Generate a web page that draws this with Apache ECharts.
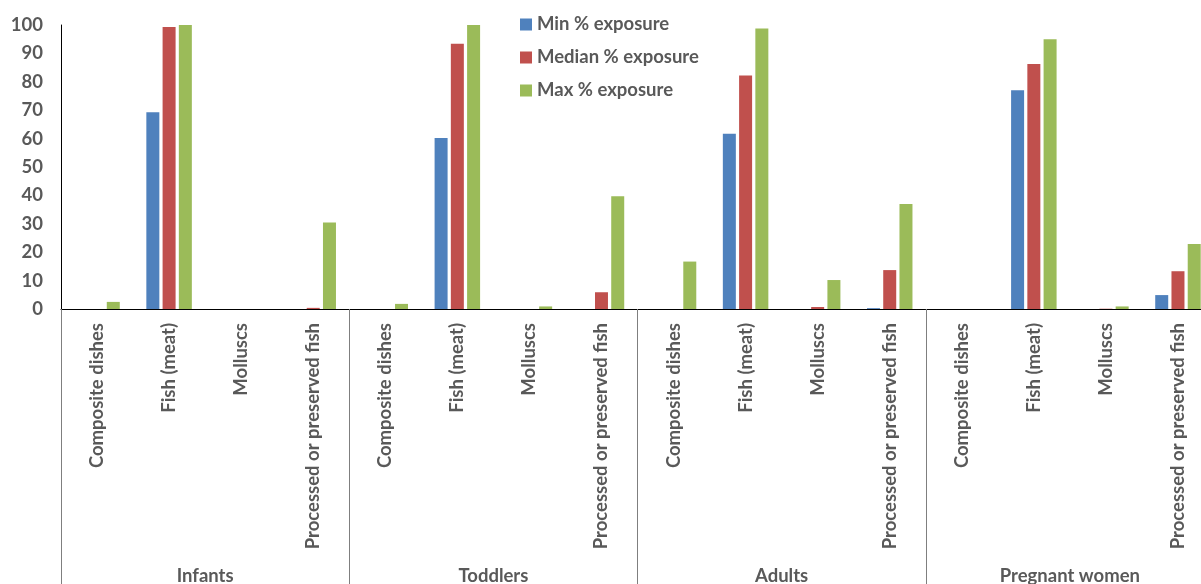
<!DOCTYPE html>
<html>
<head>
<meta charset="utf-8">
<script src="https://cdn.jsdelivr.net/npm/echarts@6/dist/echarts.min.js"></script>
<style>
  html, body { margin: 0; padding: 0; background: #fff; overflow: hidden; }
  /* the plot runs slightly past the right edge of the window */
  #chart { width: 1214px; height: 584px; }
</style>
</head>
<body>
<div id="chart"></div>
<script>
// Population groups and food categories
const groups = ['Infants', 'Toddlers', 'Adults', 'Pregnant women'];
const foods = ['Composite dishes', 'Fish (meat)', 'Molluscs', 'Processed or preserved fish'];
const categories = groups.flatMap(() => foods);

// % exposure per group, ordered as in `categories`
const minExposure = [
  0, 69.3, 0, 0,
  0, 60.2, 0, 0,
  0, 61.7, 0, 0.3,
  0, 77.0, 0, 4.9
];
const medianExposure = [
  0, 99.3, 0, 0.4,
  0, 93.4, 0, 5.9,
  0, 82.2, 0.7, 13.7,
  0, 86.3, 0.1, 13.3
];
const maxExposure = [
  2.5, 100, 0, 30.5,
  1.8, 100, 0.9, 39.7,
  16.7, 98.8, 10.2, 37.0,
  0, 95.0, 0.9, 22.9
];
const yTicks = { min: 0, max: 100, interval: 10 };

const txt = '#595959';
const font = 'Lato, "Open Sans", sans-serif';
const fs = 18.5;

const chart = echarts.init(document.getElementById('chart'));
chart.setOption({
  animation: false,
  backgroundColor: '#fff',
  legend: {
    orient: 'vertical',
    left: 515,
    top: 10,
    itemWidth: 12,
    itemHeight: 12,
    itemGap: 14,
    icon: 'rect',
    textStyle: { color: txt, fontWeight: 'bold', fontSize: fs, fontFamily: font }
  },
  grid: {
    left: 61, top: 25, right: 0, height: 284,
    containLabel: false,
    outerBoundsMode: 'none'
  },
  xAxis: [
    {
      type: 'category',
      data: categories,
      axisLine: { show: true, lineStyle: { color: '#000', width: 1 } },
      axisTick: {
        show: true,
        interval: (i) => i % 4 === 0,
        length: 280,
        lineStyle: { color: '#7f7f7f', width: 1 }
      },
      axisLabel: {
        interval: 0,
        rotate: 90,
        margin: 14,
        color: txt,
        fontWeight: 'bold',
        fontSize: fs,
        fontFamily: font
      }
    },
    {
      type: 'category',
      data: groups,
      position: 'bottom',
      axisLine: { show: false },
      axisTick: { show: false },
      axisLabel: {
        interval: 0,
        margin: 258,
        color: txt,
        fontWeight: 'bold',
        fontSize: fs,
        fontFamily: font
      }
    }
  ],
  yAxis: {
    type: 'value',
    min: yTicks.min,
    max: yTicks.max,
    interval: yTicks.interval,
    splitLine: { show: false },
    axisTick: { show: false },
    axisLine: { show: true, lineStyle: { color: '#000', width: 1 } },
    axisLabel: {
      margin: 18,
      color: txt,
      fontWeight: 'bold',
      fontSize: fs,
      fontFamily: font
    }
  },
  series: [
    { name: 'Min % exposure', type: 'bar', data: minExposure, barWidth: 13, barGap: '25%',
      itemStyle: { color: '#4F81BD' } },
    { name: 'Median % exposure', type: 'bar', data: medianExposure, barWidth: 13, barGap: '25%',
      itemStyle: { color: '#C0504D' } },
    { name: 'Max % exposure', type: 'bar', data: maxExposure, barWidth: 13, barGap: '25%',
      itemStyle: { color: '#9BBB59' } }
  ]
});
</script>
</body>
</html>
